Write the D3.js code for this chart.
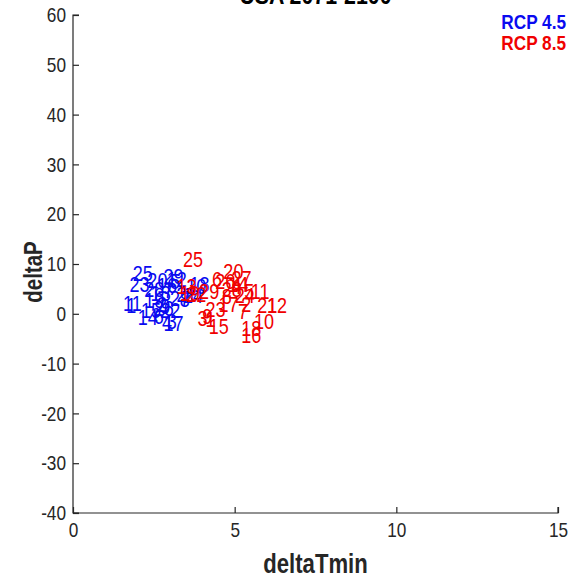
<!DOCTYPE html>
<html>
<head>
<meta charset="utf-8">
<script src="https://cdn.jsdelivr.net/npm/d3@7"></script>
<style>
html,body{margin:0;padding:0;background:#fff;}
svg{display:block;}
text{font-family:"Liberation Sans",Arial,Helvetica,sans-serif;}
</style>
</head>
<body>
<svg id="chart" width="578" height="580"></svg>
<script>
// ---- data ----
const title = "USA 2071-2100";
const xLabel = "deltaTmin";
const yLabel = "deltaP";
const xTicks = [0, 5, 10, 15];
const yTicks = [-40, -30, -20, -10, 0, 10, 20, 30, 40, 50, 60];
const seriesNames = ["RCP 4.5", "RCP 8.5"];
const seriesColors = ["#0a0af0", "#f00000"];
const modelLabels = ["1","2","3","4","5","6","7","8","9","10","11","12","13","14","15","16","17","18","19","20","21","22","23","24","25","26","27","28","29"];
const rcp45X = [1.65,2.6,2.9,2.75,3.0,2.5,2.8,3.3,2.7,3.5,1.55,2.9,2.4,2.0,2.1,2.6,2.8,3.6,2.2,2.3,3.2,2.7,1.75,3.4,1.85,2.5,3.0,2.2,2.8];
const rcp45Y = [1.8,2.0,-1.5,-1.8,6.5,-0.5,4.8,3.0,1.5,5.5,2.1,7.0,4.2,-0.8,0.8,5.8,-2.0,6.0,2.8,6.8,4.0,0.8,6.0,3.8,8.2,1.2,3.2,5.0,7.5];
const rcp85X = [4.1,5.2,3.85,4.9,5.3,4.3,5.1,4.6,4.0,5.6,5.5,6.0,3.2,4.8,4.2,5.2,4.5,5.2,3.3,4.65,5.7,3.5,4.1,5.0,3.4,4.4,4.9,4.6,3.9];
const rcp85Y = [-1.2,2.0,-1.0,5.5,4.6,7.0,0.5,3.5,-0.5,-1.5,4.6,1.8,5.6,6.0,-2.5,-4.4,2.0,-3.0,4.2,8.6,1.8,4.0,1.0,3.8,11.0,6.5,7.2,5.0,4.5];

// ---- chart ----
const svg = d3.select("#chart");
const x = d3.scaleLinear().domain([0, 15]).range([73, 558]);
const y = d3.scaleLinear().domain([-40, 60]).range([513, 15]);
const axisColor = "#262626";
const K = 0.82; // horizontal condensing of the text

function narrow(sel, extra) {
  sel.each(function () {
    const t = d3.select(this);
    const tx = +t.attr("x") || 0, ty = +t.attr("y") || 0;
    t.attr("x", 0).attr("y", 0)
      .attr("transform", `translate(${tx},${ty})${extra || ""} scale(${K},1)`);
  });
}

// axes
const gx = svg.append("g").attr("transform", `translate(0,${y(-40)})`)
  .call(d3.axisBottom(x).tickValues(xTicks).tickSize(-6).tickPadding(9).tickFormat(d => String(d)));
const gy = svg.append("g").attr("transform", `translate(${x(0)},0)`)
  .call(d3.axisLeft(y).tickValues(yTicks).tickSize(-6).tickPadding(7).tickFormat(d => String(d)));
[gx, gy].forEach(g => {
  g.select(".domain").attr("stroke", axisColor).attr("stroke-width", 1.2);
  g.selectAll(".tick line").attr("stroke", axisColor).attr("stroke-width", 1.2);
  g.selectAll(".tick text").attr("fill", axisColor).style("font-size", "21px")
    .style("font-family", "'Liberation Sans',Arial,sans-serif");
  narrow(g.selectAll(".tick text"));
});
gy.select(".domain").attr("d", `M6,${y(-40)}H0V${y(60)}H6`);
gx.select(".domain").attr("d", `M${x(0)},0H${x(15)}V-6`);

// labels
const series = [
  {xs: rcp45X, ys: rcp45Y, color: seriesColors[0]},
  {xs: rcp85X, ys: rcp85Y, color: seriesColors[1]}
];
series.forEach(s => {
  const t = svg.append("g").selectAll("text").data(modelLabels).join("text")
    .attr("x", (d, i) => x(s.xs[i]))
    .attr("y", (d, i) => y(s.ys[i]))
    .attr("dy", "0.35em")
    .attr("fill", s.color)
    .style("font-size", "22px")
    .text(d => d);
  narrow(t);
});

// title
narrow(svg.append("text").attr("x", (x(0) + x(15)) / 2).attr("y", 4)
  .attr("text-anchor", "middle").style("font-size", "26px").style("font-weight", "bold")
  .attr("fill", "#000").text(title));

// axis labels
narrow(svg.append("text").attr("x", (x(0) + x(15)) / 2).attr("y", 573)
  .attr("text-anchor", "middle").style("font-size", "27px").style("font-weight", "bold")
  .attr("fill", axisColor).text(xLabel));
narrow(svg.append("text").attr("x", 42).attr("y", 272)
  .attr("text-anchor", "middle").style("font-size", "25px").style("font-weight", "bold")
  .attr("fill", axisColor).text(yLabel), " rotate(-90)");

// legend
seriesNames.forEach((n, i) => {
  narrow(svg.append("text").attr("x", 566).attr("y", 29 + i * 21)
    .attr("text-anchor", "end").style("font-size", "21px").style("font-weight", "bold")
    .attr("fill", seriesColors[i]).text(n));
});
</script>
</body>
</html>
